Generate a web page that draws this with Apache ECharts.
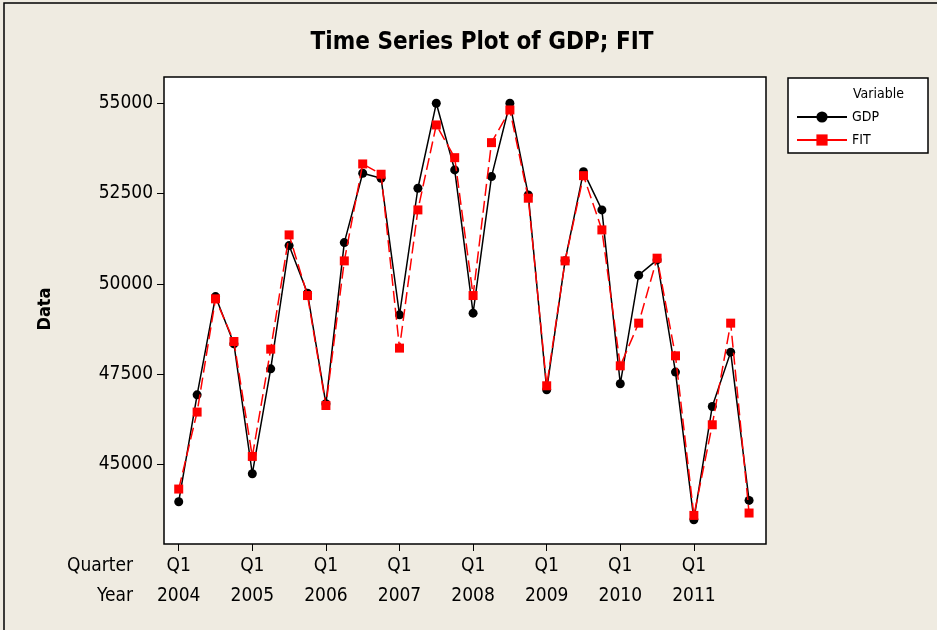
<!DOCTYPE html>
<html>
<head>
<meta charset="utf-8">
<script src="https://cdn.jsdelivr.net/npm/echarts@6/dist/echarts.min.js"></script>
<style>
html,body{margin:0;padding:0;background:#EFEBE1;}
#c{width:937px;height:630px;}
</style>
</head>
<body>
<div id="c"></div>
<script>
const quarters = ['Q1','Q2','Q3','Q4'];
const years = [2004,2005,2006,2007,2008,2009,2010,2011];
const gdp = [43965,46926,49647,48338, 44740,47646,51059,49741, 46677,51142,53062,52924, 49140,52647,55000,53154,
             49188,52969,55000,52462, 47065,50640,53107,52047, 47231,50239,50663,47555, 43467,46603,48108,44001];
const fit = [44316,46448,49584,48402, 45219,48191,51355,49675, 46630,50635,53320,53035, 48219,52047,54400,53494,
             49675,53910,54815,52371, 47176,50635,52996,51493, 47729,48911,50710,48006, 43586,46096,48911,43652];
const yTicks = [45000,47500,50000,52500,55000];

const FONT = '"DejaVu Sans Condensed","DejaVu Sans",sans-serif';
const xTicks = years.map((y,i)=>i*4);

const chart = echarts.init(document.getElementById('c'));
chart.setOption({
  backgroundColor:'#EFEBE1',
  animation:false,
  title:{text:'Time Series Plot of GDP; FIT', left:477, top:26, textAlign:'center',
    textStyle:{fontFamily:FONT, fontWeight:'bold', fontSize:24, color:'#000'}},
  grid:{left:164, top:77, right:171, bottom:86, show:true, backgroundColor:'#fff', borderColor:'#000', borderWidth:1.5, containLabel:false},
  xAxis:{type:'value', min:-0.8, max:31.92,
    axisLine:{show:false, onZero:false},
    splitLine:{show:false},
    axisTick:{show:true, customValues:xTicks, length:7, inside:false, lineStyle:{color:'#000', width:1}},
    axisLabel:{customValues:xTicks, margin:7, lineHeight:30, fontFamily:FONT, fontSize:19, color:'#000',
      formatter:(v)=> quarters[Math.round(v)%4] + '\n' + years[Math.floor(Math.round(v)/4)]}},
  yAxis:{type:'value', min:42794, max:55728,
    axisLine:{show:false, onZero:false},
    splitLine:{show:false},
    axisTick:{show:true, customValues:yTicks, length:7, lineStyle:{color:'#000', width:1}},
    axisLabel:{customValues:yTicks, margin:11, fontFamily:FONT, fontSize:19, color:'#000',
      formatter:(v)=> String(Math.round(v))}},
  legend:{orient:'vertical', left:791, top:105, itemWidth:50, itemHeight:14, itemGap:9,
    textStyle:{fontFamily:FONT, fontSize:14, color:'#000'},
    data:[{name:'GDP'},{name:'FIT', lineStyle:{type:'solid'}}]},
  graphic:[
    {type:'rect', shape:{x:4, y:3, width:940, height:640}, style:{fill:'none', stroke:'#000', lineWidth:1.5}, z:-1},
    {type:'rect', shape:{x:788, y:78, width:140, height:75}, style:{fill:'#fff', stroke:'#000', lineWidth:1.5}, z:0},
    {type:'text', x:853, y:94, style:{text:'Variable', fontFamily:FONT, fontSize:14, fill:'#000', textVerticalAlign:'middle'}, z:1},
    {type:'text', x:133, y:566, style:{text:'Quarter', fontFamily:FONT, fontSize:19, fill:'#000', textAlign:'right', textVerticalAlign:'middle'}},
    {type:'text', x:133, y:596, style:{text:'Year', fontFamily:FONT, fontSize:19, fill:'#000', textAlign:'right', textVerticalAlign:'middle'}},
    {type:'text', x:45, y:309, rotation:Math.PI/2, style:{text:'Data', fontFamily:FONT, fontWeight:'bold', fontSize:18, fill:'#000', textAlign:'center', textVerticalAlign:'middle'}}
  ],
  series:[
    {name:'GDP', type:'line', data:gdp.map((v,i)=>[i,v]), symbol:'circle', symbolSize:9,
      itemStyle:{color:'#000'}, lineStyle:{color:'#000', width:1.5}, z:2},
    {name:'FIT', type:'line', data:fit.map((v,i)=>[i,v]), symbol:'rect', symbolSize:9,
      itemStyle:{color:'#FF0000'}, lineStyle:{color:'#FF0000', width:1.5, type:[12,5]}, z:3}
  ]
});
</script>
</body>
</html>
